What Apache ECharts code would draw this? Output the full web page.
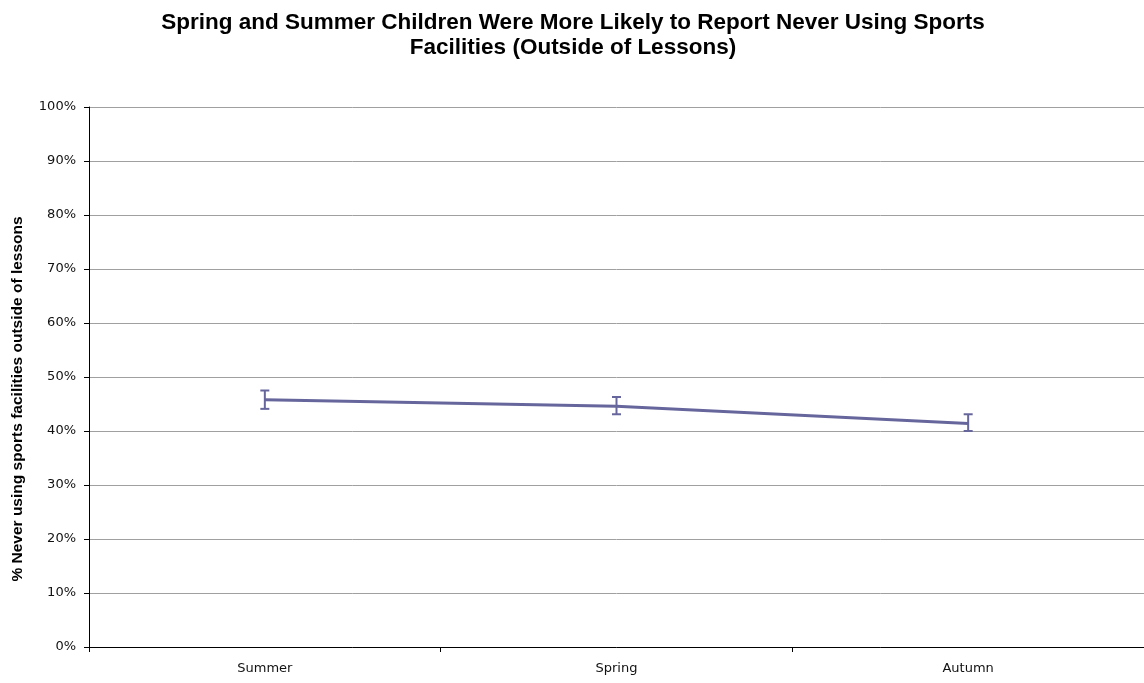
<!DOCTYPE html>
<html>
<head>
<meta charset="utf-8">
<script src="https://cdn.jsdelivr.net/npm/echarts@6/dist/echarts.min.js"></script>
<style>html,body{margin:0;padding:0;background:#fff;}#c{width:1144px;height:683px;}</style>
</head>
<body>
<div id="c"></div>
<script>
var categories = ['Summer', 'Spring', 'Autumn'];
var values = [45.8, 44.6, 41.4];
var errLow = [44.1, 43.1, 40.0];
var errHigh = [47.5, 46.3, 43.1];
var yTicks = [0, 10, 20, 30, 40, 50, 60, 70, 80, 90, 100];

var chart = echarts.init(document.getElementById('c'), null, {renderer: 'canvas'});
var errData = categories.map(function (c, i) { return [i, errLow[i], errHigh[i]]; });
var lineColor = '#66669c';
chart.setOption({
  animation: false,
  backgroundColor: '#fff',
  title: {
    text: 'Spring and Summer Children Were More Likely to Report Never Using Sports\nFacilities (Outside of Lessons)',
    left: 568, top: 5, textAlign: 'center',
    textStyle: {fontFamily: 'Liberation Sans', fontWeight: 'bold', fontSize: 22.5, color: '#000', lineHeight: 25}
  },
  graphic: [{
    type: 'text', x: 18, y: 399, rotation: Math.PI / 2,
    style: {text: '% Never using sports facilities outside of lessons', fontFamily: 'Liberation Sans',
      fontWeight: 'bold', fontSize: 15.5, fill: '#000', align: 'center', verticalAlign: 'middle'}
  }],
  grid: {left: 89, top: 107, width: 1057, height: 540, containLabel: false},
  xAxis: {
    type: 'category', data: categories, boundaryGap: true,
    axisLine: {lineStyle: {color: '#000', width: 1}},
    axisTick: {show: true, length: 5, lineStyle: {color: '#000'}},
    axisLabel: {fontFamily: 'DejaVu Sans', fontSize: 13, color: '#111', margin: 15}
  },
  yAxis: {
    type: 'value', min: 0, max: 100, interval: 10,
    axisLine: {show: true, lineStyle: {color: '#000', width: 1}},
    axisTick: {show: true, length: 5, lineStyle: {color: '#000'}},
    axisLabel: {fontFamily: 'DejaVu Sans', fontSize: 13, color: '#111', margin: 13,
      formatter: function (v) { return yTicks.indexOf(v) >= 0 ? v + '%' : ''; }},
    splitLine: {show: true, lineStyle: {color: '#a0a0a0', width: 1}}
  },
  series: [
    {
      type: 'line', data: values, symbol: 'none',
      lineStyle: {color: lineColor, width: 3}, z: 2
    },
    {
      type: 'custom', data: errData, z: 3,
      renderItem: function (params, api) {
        var x = api.value(0);
        var lo = api.coord([x, api.value(1)]);
        var hi = api.coord([x, api.value(2)]);
        var hw = 4.5;
        var style = {stroke: lineColor, lineWidth: 2, fill: null};
        return {type: 'group', children: [
          {type: 'line', shape: {x1: lo[0], y1: lo[1], x2: hi[0], y2: hi[1]}, style: style},
          {type: 'line', shape: {x1: lo[0] - hw, y1: lo[1], x2: lo[0] + hw, y2: lo[1]}, style: style},
          {type: 'line', shape: {x1: hi[0] - hw, y1: hi[1], x2: hi[0] + hw, y2: hi[1]}, style: style}
        ]};
      }
    }
  ]
});
</script>
</body>
</html>
